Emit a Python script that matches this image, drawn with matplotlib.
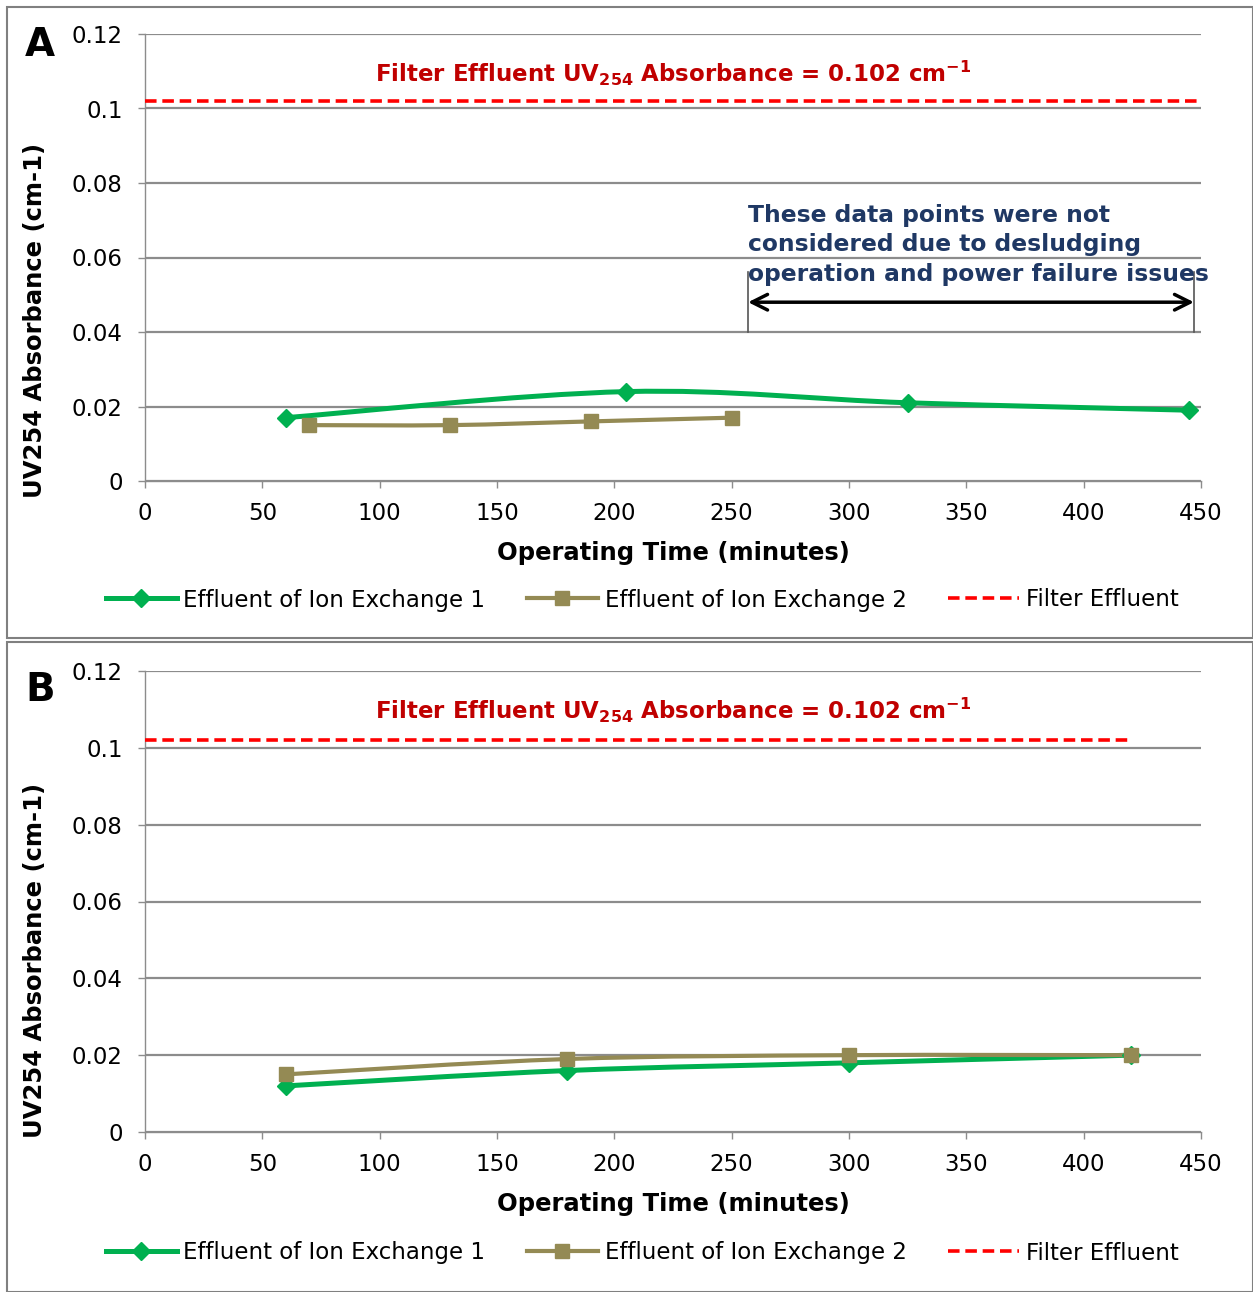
import numpy as np
import matplotlib
matplotlib.use("Agg")
import matplotlib.pyplot as plt
from matplotlib.path import Path
from matplotlib.patches import PathPatch, Rectangle
from matplotlib.lines import Line2D

# ---------------- data ----------------
a_ix1_time = [60, 205, 325, 445]
a_ix1_uv = [0.017, 0.024, 0.021, 0.019]
a_ix2_time = [70, 130, 190, 250]
a_ix2_uv = [0.015, 0.015, 0.016, 0.017]
a_filter_time = [0, 450]
a_filter_uv = [0.102, 0.102]

b_ix1_time = [60, 180, 300, 420]
b_ix1_uv = [0.012, 0.016, 0.018, 0.020]
b_ix2_time = [60, 180, 300, 420]
b_ix2_uv = [0.015, 0.019, 0.020, 0.020]
b_filter_time = [0, 420]
b_filter_uv = [0.102, 0.102]

x_ticks = [0, 50, 100, 150, 200, 250, 300, 350, 400, 450]
y_ticks = [0, 0.02, 0.04, 0.06, 0.08, 0.1, 0.12]
y_tick_labels = ["0", "0.02", "0.04", "0.06", "0.08", "0.1", "0.12"]

series_names = ["Effluent of Ion Exchange 1", "Effluent of Ion Exchange 2", "Filter Effluent"]
note_text = "These data points were not\nconsidered due to desludging\noperation and power failure issues"
note_span = [257, 447]

GREEN = "#00B050"
TAN = "#948A54"
RED = "#FF0000"
DARKRED = "#C00000"
NAVY = "#1F3864"
GRID = "#8C8C8C"

plt.rcParams["font.family"] = ["DejaVu Sans"]

W, H = 1253, 1292
fig = plt.figure(figsize=(W / 100, H / 100), dpi=100)


def smooth_path(xs, ys):
    xs = np.asarray(xs, float)
    ys = np.asarray(ys, float)
    n = len(xs)
    verts = [(xs[0], ys[0])]
    codes = [Path.MOVETO]
    for i in range(n - 1):
        p0 = np.array([xs[max(i - 1, 0)], ys[max(i - 1, 0)]])
        p1 = np.array([xs[i], ys[i]])
        p2 = np.array([xs[i + 1], ys[i + 1]])
        p3 = np.array([xs[min(i + 2, n - 1)], ys[min(i + 2, n - 1)]])
        c1 = p1 + (p2 - p0) / 6.0
        c2 = p2 - (p3 - p1) / 6.0
        verts += [tuple(c1), tuple(c2), tuple(p2)]
        codes += [Path.CURVE4] * 3
    return Path(verts, codes)


def panel(rect, letter, ix1, ix2, filt, frame, legend_y, letter_y, note=False):
    # panel frame
    fig.patches.append(Rectangle((frame[0] / W, 1 - frame[3] / H),
                                 (frame[2] - frame[0]) / W, (frame[3] - frame[1]) / H,
                                 transform=fig.transFigure, fill=False,
                                 edgecolor="#808080", linewidth=1.5))
    ax = fig.add_axes(rect)
    ax_h_px = rect[3] * H
    ax.set_xlim(0, 450)
    ax.set_ylim(0, 0.12)
    ax.set_xticks(x_ticks)
    ax.set_yticks(y_ticks)
    ax.set_yticklabels(y_tick_labels)
    ax.tick_params(axis="both", labelsize=16.5, colors=GRID, labelcolor="black",
                   length=5, width=1.0)
    ax.tick_params(axis="x", pad=10)
    ax.tick_params(axis="y", pad=11)
    ax.grid(axis="y", color=GRID, linewidth=1.6)
    ax.set_axisbelow(True)
    for s in ["top", "right"]:
        ax.spines[s].set_visible(False)
    for s in ["left", "bottom"]:
        ax.spines[s].set_color(GRID)
        ax.spines[s].set_linewidth(1.0)
    ax.set_xlabel("Operating Time (minutes)", fontsize=17.5, fontweight="bold", va="center")
    ax.xaxis.set_label_coords(0.5, -72 / ax_h_px)
    ax.set_ylabel("UV254 Absorbance (cm-1)", fontsize=17.5, fontweight="bold",
                  va="center")
    ax.yaxis.set_label_coords(-110 / 1056, (ax_h_px - 63 * ax_h_px / 447) / ax_h_px * 0 + 0.36)

    # smoothed lines
    for (xs, ys), col, lw, mk, ms in [(ix1, GREEN, 3.6, "D", 9.5), (ix2, TAN, 3.0, "s", 9.5)]:
        ax.add_patch(PathPatch(smooth_path(xs, ys), facecolor="none", edgecolor=col,
                               linewidth=lw, zorder=3))
        ax.plot(xs, ys, linestyle="none", marker=mk, markersize=ms, color=col, zorder=4)
    ax.plot(filt[0], filt[1], color=RED, linewidth=2.6, dashes=(3.2, 1.6), zorder=3)

    ax.text(0.5, 1 - 39 / ax_h_px,
            r"Filter Effluent UV$_{\mathbf{254}}$ Absorbance = 0.102 cm$^{\mathbf{-1}}$",
            transform=ax.transAxes, ha="center", va="center", color=DARKRED,
            fontsize=16.5, fontweight="bold")

    fig.text(25 / W, 1 - letter_y / H, letter, fontsize=28, fontweight="bold",
             ha="left", va="center")

    if note:
        ax.text(257, 0.0634, note_text, ha="left", va="center", color=NAVY,
                fontsize=16.8, fontweight="bold", linespacing=1.37)
        ax.annotate("", xy=(note_span[0], 0.048), xytext=(note_span[1], 0.048),
                    arrowprops=dict(arrowstyle="<->", color="black", lw=2.5,
                                    mutation_scale=28, shrinkA=0, shrinkB=0))
        ax.plot([note_span[0]] * 2, [0.040, 0.0562], color="#555555", lw=1.2, zorder=2)
        ax.plot([note_span[1]] * 2, [0.040, 0.0562], color="#555555", lw=1.2, zorder=2)

    handles = [Line2D([], [], color=GREEN, lw=3.6, marker="D", markersize=9.5),
               Line2D([], [], color=TAN, lw=3.0, marker="s", markersize=9.5),
               Line2D([], [], color=RED, lw=2.6, dashes=(3.2, 1.6))]
    fig.legend(handles, series_names, loc="center", ncol=3, frameon=False,
               bbox_to_anchor=(642 / W, 1 - legend_y / H), fontsize=16.5,
               handlelength=3.1, handletextpad=0.3, columnspacing=1.8)
    return ax


ax_a = panel([145 / W, 1 - 481 / H, 1056 / W, 447 / H], "A",
             (a_ix1_time, a_ix1_uv), (a_ix2_time, a_ix2_uv), (a_filter_time, a_filter_uv),
             (7, 7, 1253, 638), 600, 45, note=True)
ax_b = panel([145 / W, 1 - 1132 / H, 1056 / W, 461 / H], "B",
             (b_ix1_time, b_ix1_uv), (b_ix2_time, b_ix2_uv), (b_filter_time, b_filter_uv),
             (7, 642, 1253, 1292), 1253, 690)
ax_b.yaxis.set_label_coords(-110 / 1056, 0.373)

fig.savefig("out.png", dpi=100)
